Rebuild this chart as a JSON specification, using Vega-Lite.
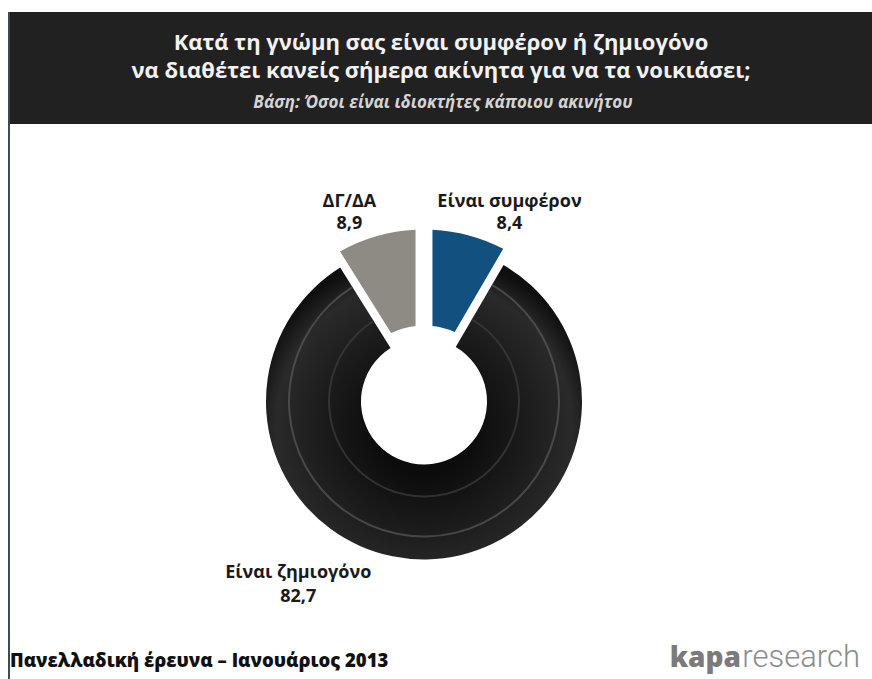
{
  "$schema": "https://vega.github.io/schema/vega-lite/v6.json",
  "background": "white",
  "padding": {"left": 8, "top": 12, "right": 0, "bottom": 0},
  "autosize": {"type": "pad"},
  "config": {"view": {"stroke": null}},
  "spacing": 0,
  "hconcat": [
    {
      "width": 2,
      "height": 667,
      "view": {"fill": "#3d4a50", "stroke": null},
      "data": {"values": [{}]},
      "mark": {"type": "text", "text": ""}
    },
    {
      "spacing": 0,
      "vconcat": [
        {
          "width": 862,
          "height": 112,
          "view": {"fill": "#212121", "stroke": null},
          "data": {"values": [{}]},
          "layer": [
            {"mark": {"type": "text", "text": "Κατά τη γνώμη σας  είναι συμφέρον ή ζημιογόνο", "font": "Open Sans", "fontWeight": "bold", "fontSize": 22, "color": "#f2f2f2", "align": "center", "baseline": "alphabetic", "dy": -18}},
            {"mark": {"type": "text", "text": "να διαθέτει κανείς σήμερα ακίνητα για να τα νοικιάσει;", "font": "Open Sans", "fontWeight": "bold", "fontSize": 22, "color": "#f2f2f2", "align": "center", "baseline": "alphabetic", "dy": 10}},
            {"mark": {"type": "text", "text": "Βάση: Όσοι είναι ιδιοκτήτες κάποιου ακινήτου", "font": "Open Sans", "fontWeight": "bold", "fontStyle": "italic", "fontSize": 17, "color": "#d4d4d4", "align": "center", "baseline": "alphabetic", "dx": 2, "dy": 40}}
          ]
        },
        {
          "width": 828,
          "height": 555,
          "title": {"text": "Πανελλαδική έρευνα – Ιανουάριος 2013", "orient": "bottom", "anchor": "start", "frame": "group", "offset": -12, "font": "Open Sans", "fontSize": 18.5, "fontWeight": 800, "color": "#111111", "baseline": "alphabetic"},
          "layer": [
            {
              "data": {"values": [
                {"label": "Είναι συμφέρον", "value": 8.4},
                {"label": "Είναι ζημιογόνο", "value": 82.7},
                {"label": "ΔΓ/ΔΑ", "value": 8.9}
              ]},
              "transform": [
                {"stack": "value", "groupby": [], "as": ["v0", "v1"]},
                {"calculate": "(datum.v0 + datum.v1) / 2", "as": "mid"},
                {"calculate": "[datum.label, replace(format(datum.value, '.1f'), '.', ',')]", "as": "lines"}
              ],
              "layer": [
                {
                  "transform": [{"filter": "datum.label === 'Είναι ζημιογόνο'"}],
                  "mark": {"type": "arc", "innerRadius": 63, "outerRadius": 158, "color": {"gradient": "radial", "x1": 0.5, "y1": 0.55, "r1": 0.15, "x2": 0.5, "y2": 0.55, "r2": 0.55, "stops": [{"offset": 0, "color": "#0c0c0c"}, {"offset": 0.45, "color": "#1c1c1c"}, {"offset": 0.8, "color": "#2a2a2a"}, {"offset": 1, "color": "#0f0f0f"}]}},
                  "encoding": {
                    "theta": {"field": "v0", "type": "quantitative", "scale": {"domain": [0, 100]}},
                    "theta2": {"field": "v1"}
                  }
                },
                {
                  "transform": [{"filter": "datum.label === 'Είναι ζημιογόνο'"}],
                  "mark": {"type": "arc", "innerRadius": 134, "outerRadius": 136, "color": "#5a5a5a", "opacity": 0.7},
                  "encoding": {
                    "theta": {"field": "v0", "type": "quantitative", "scale": {"domain": [0, 100]}},
                    "theta2": {"field": "v1"}
                  }
                },
                {
                  "transform": [{"filter": "datum.label === 'Είναι ζημιογόνο'"}],
                  "mark": {"type": "arc", "innerRadius": 94, "outerRadius": 96, "color": "#3a3a3a", "opacity": 0.8},
                  "encoding": {
                    "theta": {"field": "v0", "type": "quantitative", "scale": {"domain": [0, 100]}},
                    "theta2": {"field": "v1"}
                  }
                },
                {
                  "transform": [{"filter": "datum.label !== 'Είναι ζημιογόνο'"}],
                  "mark": {"type": "arc", "innerRadius": 76, "outerRadius": 172, "padAngle": 0.09},
                  "encoding": {
                    "theta": {"field": "v0", "type": "quantitative", "scale": {"domain": [0, 100]}},
                    "theta2": {"field": "v1"},
                    "color": {"field": "label", "type": "nominal", "scale": {"domain": ["Είναι συμφέρον", "ΔΓ/ΔΑ"], "range": ["#12507f", "#8d8b83"]}, "legend": null}
                  }
                },
                {
                  "transform": [{"filter": "datum.label === 'Είναι συμφέρον'"}],
                  "mark": {"type": "text", "font": "Open Sans", "fontWeight": "bold", "fontSize": 18, "lineHeight": 22, "color": "#1a1a1a", "align": "center", "baseline": "alphabetic", "dx": 32, "dy": 3},
                  "encoding": {
                    "theta": {"field": "mid", "type": "quantitative", "scale": {"domain": [0, 100]}},
                    "radius": {"value": 205},
                    "text": {"field": "lines", "type": "nominal"}
                  }
                },
                {
                  "transform": [{"filter": "datum.label === 'ΔΓ/ΔΑ'"}],
                  "mark": {"type": "text", "font": "Open Sans", "fontWeight": "bold", "fontSize": 18, "lineHeight": 22, "color": "#1a1a1a", "align": "center", "baseline": "alphabetic", "dx": -18, "dy": 3},
                  "encoding": {
                    "theta": {"field": "mid", "type": "quantitative", "scale": {"domain": [0, 100]}},
                    "radius": {"value": 205},
                    "text": {"field": "lines", "type": "nominal"}
                  }
                },
                {
                  "transform": [{"filter": "datum.label === 'Είναι ζημιογόνο'"}],
                  "mark": {"type": "text", "font": "Open Sans", "fontWeight": "bold", "fontSize": 18, "lineHeight": 24, "color": "#1a1a1a", "align": "center", "baseline": "alphabetic", "dx": -129, "dy": -28},
                  "encoding": {
                    "theta": {"field": "mid", "type": "quantitative", "scale": {"domain": [0, 100]}},
                    "radius": {"value": 205},
                    "text": {"field": "lines", "type": "nominal"}
                  }
                }
              ]
            },
            {
              "data": {"values": [{}]},
              "mark": {"type": "text", "text": "kapa", "font": "Open Sans", "fontWeight": 800, "fontSize": 28, "color": "#7b7b7b", "align": "right", "baseline": "alphabetic", "dx": -97, "dy": -12},
              "encoding": {"x": {"value": "width"}, "y": {"value": "height"}}
            },
            {
              "data": {"values": [{}]},
              "mark": {"type": "text", "text": "research", "font": "Roboto", "fontWeight": 300, "fontSize": 31, "color": "#8c8c8c", "align": "right", "baseline": "alphabetic", "dx": 22, "dy": -12},
              "encoding": {"x": {"value": "width"}, "y": {"value": "height"}}
            }
          ]
        }
      ]
    }
  ]
}
